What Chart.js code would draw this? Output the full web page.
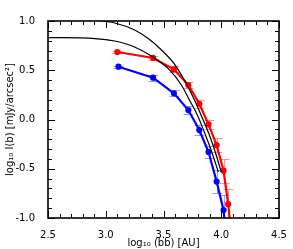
<!DOCTYPE html>
<html>
<head>
<meta charset="utf-8">
<script src="https://cdn.jsdelivr.net/npm/chart.js@4"></script>
<style>
  html, body { margin: 0; padding: 0; background: #fff; }
  #wrap { width: 293px; height: 249px; }
</style>
</head>
<body>
<div id="wrap"><canvas id="c" width="293" height="249"></canvas></div>
<script>
// data
const redX = [3.10, 3.41, 3.59, 3.715, 3.81, 3.89, 3.96, 4.02, 4.06, 4.10];
const redY = [0.685, 0.625, 0.51, 0.35, 0.16, -0.05, -0.26, -0.52, -0.86, -1.30];
const redErr = [0.01, 0.02, 0.03, 0.03, 0.04, 0.05, 0.07, 0.12, 0.15, 0];

const blueX = [3.11, 3.41, 3.59, 3.715, 3.81, 3.89, 3.96, 4.02, 4.05];
const blueY = [0.536, 0.425, 0.266, 0.096, -0.107, -0.33, -0.63, -0.92, -1.30];
const blueErr = [0.01, 0.03, 0.03, 0.04, 0.05, 0.06, 0.12, 0.15, 0];

const modelAX = [2.5, 2.905, 3.078, 3.25, 3.362, 3.483, 3.595, 3.69, 3.767, 3.836, 3.897, 3.948, 4.0];
const modelAY = [1.03, 1.01, 0.98, 0.909, 0.827, 0.706, 0.563, 0.381, 0.20, 0.015, -0.157, -0.33, -0.533];

const modelBX = [2.5, 2.905, 3.078, 3.25, 3.422, 3.552, 3.655, 3.724, 3.793, 3.853, 3.912, 3.975];
const modelBY = [0.832, 0.822, 0.797, 0.736, 0.624, 0.503, 0.35, 0.198, 0.046, -0.127, -0.31, -0.533];

const xTicks = [2.5, 3.0, 3.5, 4.0, 4.5];
const yTicks = [-1.0, -0.5, 0.0, 0.5, 1.0];

const pts = (xs, ys) => xs.map((x, i) => ({ x: x, y: ys[i] }));
const lastHidden = (n, r) => Array.from({ length: n }, (_, i) => i === n - 1 ? 0 : r);

// light error bars, drawn through the scales
const errorBars = {
  id: 'errorBars',
  beforeDatasetsDraw(chart) {
    const ctx = chart.ctx, xs = chart.scales.x, ys = chart.scales.y;
    const sets = [[redX, redY, redErr, 'rgba(255,70,70,0.6)'], [blueX, blueY, blueErr, 'rgba(90,90,255,0.6)']];
    ctx.save();
    ctx.beginPath();
    ctx.rect(chart.chartArea.left, chart.chartArea.top, chart.chartArea.width, chart.chartArea.height);
    ctx.clip();
    ctx.lineWidth = 1;
    sets.forEach(([X, Y, E, col]) => {
      ctx.strokeStyle = col;
      X.forEach((x, i) => {
        if (!E[i]) return;
        const px = Math.round(xs.getPixelForValue(x)) + 0.5;
        const y1 = Math.round(ys.getPixelForValue(Y[i] + E[i])) + 0.5;
        const y2 = Math.round(ys.getPixelForValue(Y[i] - E[i])) + 0.5;
        ctx.beginPath();
        ctx.moveTo(px, y1); ctx.lineTo(px, y2);
        ctx.moveTo(px - 5, y1); ctx.lineTo(px + 5, y1);
        ctx.moveTo(px - 5, y2); ctx.lineTo(px + 5, y2);
        ctx.stroke();
      });
    });
    ctx.restore();
  }
};

// frame with inward ticks on all four sides
const frame = {
  id: 'frame',
  afterDraw(chart) {
    const ctx = chart.ctx, a = chart.chartArea, xs = chart.scales.x, ys = chart.scales.y;
    ctx.save();
    ctx.strokeStyle = '#000';
    ctx.lineWidth = 1;
    for (let k = 25; k <= 45; k++) {
      const v = k / 10, major = k % 5 === 0, L = major ? 7 : 4;
      const px = Math.round(xs.getPixelForValue(v)) + 0.5;
      ctx.beginPath();
      ctx.moveTo(px, a.bottom); ctx.lineTo(px, a.bottom - L);
      ctx.moveTo(px, a.top); ctx.lineTo(px, a.top + L);
      ctx.stroke();
    }
    for (let k = -10; k <= 10; k++) {
      const v = k / 10, major = k % 5 === 0, L = major ? 7 : 4;
      const py = Math.round(ys.getPixelForValue(v)) + 0.5;
      ctx.beginPath();
      ctx.moveTo(a.left, py); ctx.lineTo(a.left + L, py);
      ctx.moveTo(a.right, py); ctx.lineTo(a.right - L, py);
      ctx.stroke();
    }
    ctx.lineWidth = 1.6;
    ctx.strokeRect(a.left, a.top, a.right - a.left, a.bottom - a.top);
    ctx.restore();
  }
};

const font = { family: 'DejaVu Sans', size: 10 };

new Chart(document.getElementById('c'), {
  type: 'scatter',
  data: {
    datasets: [
      { data: pts(redX, redY), showLine: true, borderColor: '#ff0000', backgroundColor: '#ff0000',
        borderWidth: 2.2, pointRadius: lastHidden(redX.length, 2), pointStyle: 'circle', clip: 0, order: 3 },
      { data: pts(blueX, blueY), showLine: true, borderColor: '#0000ff', backgroundColor: '#0000ff',
        borderWidth: 2.2, pointRadius: lastHidden(blueX.length, 2), pointStyle: 'circle', clip: 0, order: 2 },
      { data: pts(modelAX, modelAY), showLine: true, borderColor: '#000', borderWidth: 1.2,
        pointRadius: 0, cubicInterpolationMode: 'monotone', clip: 0, order: 1 },
      { data: pts(modelBX, modelBY), showLine: true, borderColor: '#000', borderWidth: 1.2,
        pointRadius: 0, cubicInterpolationMode: 'monotone', clip: 0, order: 0 }
    ]
  },
  options: {
    responsive: false,
    animation: false,
    events: [],
    layout: { padding: { top: 21, right: 14, left: 0, bottom: 0 } },
    plugins: { legend: { display: false }, tooltip: { enabled: false } },
    scales: {
      x: {
        type: 'linear', min: 2.5, max: 4.5,
        afterBuildTicks: s => { s.ticks = xTicks.map(v => ({ value: v })); },
        afterFit: s => { s.height = 31; },
        grid: { display: false },
        border: { display: false },
        ticks: { font: font, color: '#000', padding: 3, maxRotation: 0,
                 callback: v => v.toFixed(1) },
        title: { display: true, text: 'log₁₀ (bb) [AU]', font: font, color: '#000', padding: { top: 0, bottom: 0 } }
      },
      y: {
        type: 'linear', min: -1, max: 1,
        afterBuildTicks: s => { s.ticks = yTicks.map(v => ({ value: v })); },
        afterFit: s => { s.width = 48; },
        grid: { display: false },
        border: { display: false },
        ticks: { font: font, color: '#000', padding: 5,
                 callback: v => v.toFixed(1) },
        title: { display: true, text: 'log₁₀ I(b) [mJy/arcsec²]', font: font, color: '#000', padding: { top: 4, bottom: 2 } }
      }
    }
  },
  plugins: [errorBars, frame]
});
</script>
</body>
</html>
